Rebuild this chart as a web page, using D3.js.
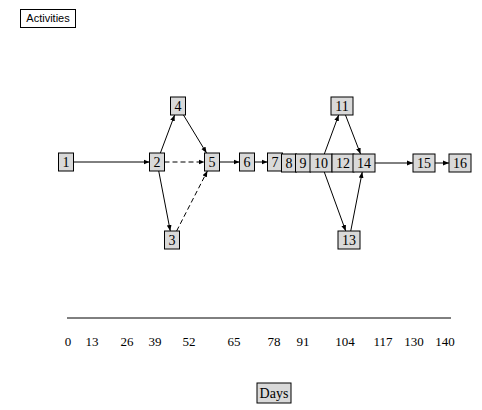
<!DOCTYPE html>
<html><head><meta charset="utf-8">
<script src="https://cdn.jsdelivr.net/npm/d3@7"></script>
<style>body{margin:0;background:#fff}</style></head>
<body><svg id="c" width="482" height="410"></svg>
<script>
var nodeIds = ['1','2','3','4','5','6','7','8','9','10','11','12','13','14','15','16'];
var nodeX = [66,157,172,178,212,247,275,289,303,321,342,343,349,364,424,460];
var nodeY = [162,162,240,106,162,162,162,163,163,163,106,163,240,163,163,163];
var links = [['1','2',0],['2','4',0],['2','5',1],['2','3',0],['3','5',1],['4','5',0],['5','6',0],
  ['6','7',0],['7','8',0],['8','9',0],['9','10',0],['10','11',0],['10','13',0],['11','14',0],
  ['13','14',0],['10','12',0],['12','14',0],['14','15',0],['15','16',0]];
var dayTicks = [0,13,26,39,52,65,78,91,104,117,130,140];
var tickPx = [68,92,127,155,189,234,274,303,345,383,414,445];

var svg = d3.select('#c');
var x = d3.scaleLinear().domain(dayTicks).range(tickPx);
var serif = 'Liberation Serif, Times New Roman, serif';

svg.append('defs').append('marker').attr('id','ar').attr('viewBox','0 0 10 10')
  .attr('refX',10).attr('refY',5).attr('markerWidth',6).attr('markerHeight',6)
  .attr('orient','auto').append('path').attr('d','M0,1L10,5L0,9z').attr('fill','#000');

var nodes = nodeIds.map(function(id,i){
  return {id:id, x:nodeX[i], y:nodeY[i], w: id.length>1 ? 22 : 15, h:18};
});
var byId = {}; nodes.forEach(function(n){byId[n.id]=n;});

function edgePt(a,b){ // point where segment a->b leaves box b
  var dx=a.x-b.x, dy=a.y-b.y;
  var s=Math.min((b.w/2)/Math.abs(dx||1e-6),(b.h/2)/Math.abs(dy||1e-6));
  return [b.x+dx*s, b.y+dy*s];
}
links.forEach(function(l){
  var a=byId[l[0]], b=byId[l[1]];
  var p0=edgePt(b,a), p1=edgePt(a,b);
  svg.append('line').attr('x1',p0[0]).attr('y1',p0[1]).attr('x2',p1[0]).attr('y2',p1[1])
    .attr('stroke','#000').attr('stroke-width',1)
    .attr('stroke-dasharray', l[2] ? '5,3' : null).attr('marker-end','url(#ar)');
});

var g = svg.selectAll('g.n').data(nodes).enter().append('g')
  .attr('transform',function(d){return 'translate('+d.x+','+d.y+')';});
g.append('rect').attr('x',function(d){return -d.w/2;}).attr('y',-9)
  .attr('width',function(d){return d.w;}).attr('height',18)
  .attr('fill','#d9d9d9').attr('stroke','#000');
g.append('text').text(function(d){return d.id;}).attr('text-anchor','middle').attr('y',5)
  .attr('font-family',serif).attr('font-size',14);

// axis
svg.append('line').attr('x1',x(0)-1).attr('x2',x(140)+6).attr('y1',318).attr('y2',318)
  .attr('stroke','#000');
svg.selectAll('text.t').data(dayTicks).enter().append('text')
  .attr('x',function(d){return x(d);}).attr('y',346).attr('text-anchor','middle')
  .attr('font-family',serif).attr('font-size',13).text(function(d){return d;});

// Days label
svg.append('rect').attr('x',257).attr('y',383).attr('width',34).attr('height',20)
  .attr('fill','#d9d9d9').attr('stroke','#000');
svg.append('text').attr('x',274).attr('y',398).attr('text-anchor','middle')
  .attr('font-family',serif).attr('font-size',14).text('Days');

// Activities label
svg.append('rect').attr('x',20.5).attr('y',9.5).attr('width',55).attr('height',18)
  .attr('fill','#fff').attr('stroke','#000');
svg.append('text').attr('x',48).attr('y',22).attr('text-anchor','middle')
  .attr('font-family','Liberation Sans, Arial, sans-serif').attr('font-size',11).text('Activities');
</script></body></html>
